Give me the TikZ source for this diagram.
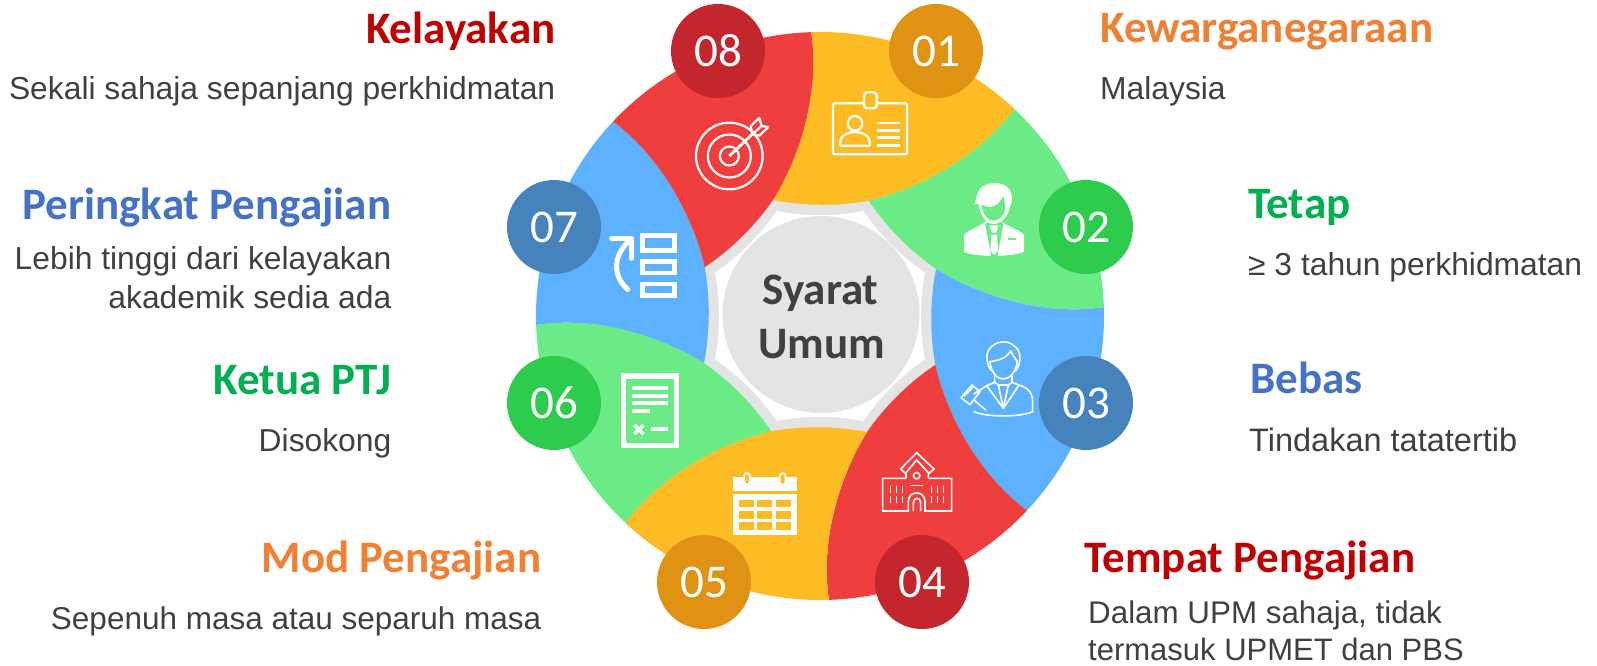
\documentclass[tikz,border=0pt]{standalone}
\usepackage{fontspec}
\setmainfont{Liberation Sans}
\newfontfamily\headf{Carlito}
\definecolor{yel}{HTML}{FDBC24}
\definecolor{grn}{HTML}{6BEB85}
\definecolor{blu}{HTML}{5EB1FD}
\definecolor{red1}{HTML}{EF3E3E}
\definecolor{dyel}{HTML}{E09213}
\definecolor{dgrn}{HTML}{2ECC4C}
\definecolor{dblu}{HTML}{4682BB}
\definecolor{dred}{HTML}{C4262E}
\definecolor{hred}{HTML}{C00000}
\definecolor{horg}{HTML}{F08034}
\definecolor{hgrn}{HTML}{00B050}
\definecolor{hblu}{HTML}{4472C4}
\definecolor{txt}{HTML}{404040}
\definecolor{ring}{HTML}{E4E4E4}
\tikzset{
  headl/.style={inner sep=0pt,text=#1,font=\headf\bfseries\fontsize{45}{45}\selectfont},
  bodyl/.style={inner sep=0pt,text=txt,font=\fontsize{#1}{#1}\selectfont},
  bodyl/.default=31.8,
  num/.style={circle,fill=#1,inner sep=0pt,minimum size=94pt,text=white,font=\headf\fontsize{47}{47}\selectfont},
  ico/.style={x=0.33333pt,y=-0.33333pt,line cap=butt,line join=miter},
  wl/.style={draw=white,line width=#1,fill=none},
}
\begin{document}
\begin{tikzpicture}[x=1pt,y=-1pt]
\useasboundingbox (0,0) rectangle (1597,665);
\fill[white] (0,0) rectangle (1597,665);
% ring and star
\begin{scope}[shift={(820,316)},x=1pt,y=1pt]
\fill[ring] (0,0) circle[radius=130pt];
\foreach \k/\c in {0/yel,1/grn,2/blu,3/red1,4/yel,5/grn,6/blu,7/red1}{
  \fill[\c,rotate=-45*\k] (91.8:284pt) arc[start angle=91.8,end angle=46.8,radius=284pt]
    .. controls (45:226) and (51.7:162.1) .. (67.06:125.2)
    .. controls (81.06:111) and (98.06:111) .. (112.06:125.2)
    .. controls (96.7:162.1) and (90:226) .. (91.8:284) -- cycle;
}
\fill[white] (112.5:113.5)
  .. controls (98:100.5) and (82:100.5) .. (67.5:113.5)
  .. controls (53:100.5) and (37:100.5) .. (22.5:113.5)
  .. controls (8:100.5) and (-8:100.5) .. (-22.5:113.5)
  .. controls (-37:100.5) and (-53:100.5) .. (-67.5:113.5)
  .. controls (-82:100.5) and (-98:100.5) .. (-112.5:113.5)
  .. controls (-127:100.5) and (-143:100.5) .. (-157.5:113.5)
  .. controls (-172:100.5) and (-188:100.5) .. (-202.5:113.5)
  .. controls (-217:100.5) and (-233:100.5) .. (112.5:113.5) -- cycle;
\end{scope}
\fill[ring] (821,314.5) circle[radius=98.5pt];
\node[font=\headf\bfseries\fontsize{45}{45}\selectfont,text=txt,inner sep=0pt,anchor=base] (cA) at (820.5,304) {Syarat};
\node[font=\headf\bfseries\fontsize{45}{45}\selectfont,text=txt,inner sep=0pt,anchor=base] (cB) at (821.5,358) {Umum};
% number circles
\node[num=dred] (n8) at (718,51) {08};
\node[num=dyel] (n1) at (936,51) {01};
\node[num=dgrn] (n2) at (1086,227) {02};
\node[num=dblu] (n3) at (1086,403) {03};
\node[num=dred] (n4) at (922,582) {04};
\node[num=dyel] (n5) at (704,582) {05};
\node[num=dgrn] (n6) at (554,403) {06};
\node[num=dblu] (n7) at (554,227) {07};
% left texts
\node[headl=hred,anchor=base east] (t8) at (555.5,43) {Kelayakan};
\node[bodyl,anchor=base east] (b8) at (555.5,99) {Sekali sahaja sepanjang perkhidmatan};
\node[headl=hblu,anchor=base east] (t7) at (391.5,219) {Peringkat Pengajian};
\node[bodyl,anchor=base east] (b7a) at (391.5,269) {Lebih tinggi dari kelayakan};
\node[bodyl,anchor=base east] (b7b) at (391.5,308) {akademik sedia ada};
\node[headl=hgrn,anchor=base east] (t6) at (391.5,394) {Ketua PTJ};
\node[bodyl,anchor=base east] (b6) at (391.5,451) {Disokong};
\node[headl=horg,anchor=base east] (t5) at (541.5,572.5) {Mod Pengajian};
\node[bodyl=31.5,anchor=base east] (b5) at (541.5,629) {Sepenuh masa atau separuh masa};
% right texts
\node[headl=horg,anchor=base west] (t1) at (1100,42.5) {Kewarganegaraan};
\node[bodyl,anchor=base west] (b1) at (1100,99) {Malaysia};
\node[headl=hgrn,anchor=base west] (t2) at (1248,218.5) {Tetap};
\node[bodyl,anchor=base west] (b2) at (1248,275) {≥ 3 tahun perkhidmatan};
\node[headl=hblu,anchor=base west] (t3) at (1250,393.5) {Bebas};
\node[bodyl=32.5,anchor=base west] (b3) at (1249,451) {Tindakan tatatertib};
\node[headl=hred,anchor=base west] (t4) at (1084,572.5) {Tempat Pengajian};
\node[bodyl=31.35,anchor=base west] (b4a) at (1088,623) {Dalam UPM sahaja, tidak};
\node[bodyl=31,anchor=base west] (b4b) at (1088,660) {termasuk UPMET dan PBS};
% icon 08 target and icon 07 list
\begin{scope}[shift={(500,0)},ico]
\draw[wl=2.2pt] (688,468) circle[radius=33.3pt];
\draw[wl=2.2pt] (688,468) circle[radius=21.5pt];
\draw[wl=2.2pt] (688,468) circle[radius=9.5pt];
\draw[white,line width=2.8pt] (688,468) -- (765,395);
\draw[wl=2.2pt,line join=round] (752,378) -- (778,354) -- (785,378) -- (805,381) -- (778,407) -- (757,402) -- cycle;
\draw[white,line width=2.2pt] (785,378) -- (762,398);
% icon 07
\draw[wl=5pt] (428,706) rectangle (524,750);
\draw[wl=4.5pt] (427,785) rectangle (524,819);
\draw[wl=4.5pt] (427,852) rectangle (524,886);
\draw[white,line width=5pt,line cap=round,line join=round] (335,715) -- (395,715) -- (395,775);
\draw[white,line width=5pt,line cap=round] (383,868) .. controls (340,830) and (335,770) .. (390,720);
\end{scope}
% icon 01 badge, icon 02 man
\begin{scope}[shift={(790,0)},ico]
\draw[wl=2.2pt,rounded corners=2pt] (129,310) rectangle (351,463);
\fill[yel] (222,277) rectangle (260,325);
\draw[wl=2.2pt,rounded corners=3pt] (222,277) rectangle (260,325);
\draw[wl=2.2pt] (195,370) circle[radius=7.3pt];
\draw[wl=2.2pt,line join=round] (151,437) -- (151,425) .. controls (151,405) and (175,396) .. (195,396) .. controls (215,396) and (239,405) .. (239,425) -- (239,437) -- cycle;
\foreach \yy in {369,392,413,436}{\draw[white,line width=2.4pt] (261,\yy) -- (330,\yy);}
% man
\fill[white] (522,705) .. controls (535,690) and (570,680) .. (590,662) -- (632,662) .. controls (650,680) and (690,690) .. (702,705) -- (702,755) .. controls (670,772) and (550,772) .. (522,755) -- cycle;
\fill[grn] (586,672) -- (604,770) -- (622,770) -- (640,672) -- (628,660) -- (598,660) -- cycle;
\fill[white] (598,676) -- (626,676) -- (618,698) -- (606,698) -- cycle;
\fill[white] (604,704) -- (621,704) -- (624,752) -- (613,765) -- (601,752) -- cycle;
\fill[white] (553,612) .. controls (560,595) and (560,570) .. (580,558) .. controls (600,545) and (640,545) .. (655,565) .. controls (670,580) and (668,605) .. (660,620) .. controls (655,650) and (630,672) .. (612,672) .. controls (590,672) and (570,650) .. (566,612) -- cycle;
\fill[grn] (574,614) .. controls (600,628) and (625,620) .. (640,588) .. controls (645,610) and (648,625) .. (644,635) .. controls (635,655) and (622,662) .. (610,662) .. controls (592,662) and (578,642) .. (574,614) -- cycle;
\fill[grn] (655,713) rectangle (679,719);
\end{scope}
% icon 03 lawyer, icon 04 school
\begin{scope}[shift={(790,320)},ico]
\begin{scope}[draw=white,line width=1.6pt,line join=round,line cap=round]
\draw (604,152) .. controls (585,125) and (585,90) .. (610,76) .. controls (625,62) and (660,62) .. (672,78) .. controls (695,90) and (695,130) .. (677,152);
\draw (598,125) .. controls (625,122) and (650,115) .. (662,92) .. controls (668,105) and (675,115) .. (682,125);
\draw (600,125) .. controls (603,155) and (620,177) .. (640,177) .. controls (660,177) and (678,155) .. (682,125);
\draw (614,168) -- (614,187) -- (590,197) -- (552,222);
\draw (666,168) -- (666,187) -- (700,200) .. controls (720,208) and (728,225) .. (728,245) -- (728,275);
\draw (614,187) -- (625,195) -- (640,265) -- (655,195) -- (666,187);
\draw (590,197) -- (640,265) -- (688,194);
\draw (625,195) -- (655,195);
\draw (552,275) .. controls (590,292) and (690,292) .. (728,275);
\draw (513,233) -- (546,195) -- (570,215) -- (540,254) -- cycle;
\draw (522,228) -- (548,203);
\draw (552,240) -- (587,270);
\end{scope}
\begin{scope}[draw=white,line width=1.6pt,line join=miter]
\draw (348,475) -- (278,475) -- (278,573) -- (355,573) -- (355,545) .. controls (355,510) and (405,510) .. (405,545) -- (405,573) -- (485,573) -- (485,475) -- (415,475);
\draw (348,475) -- (348,462) -- (332,447) -- (380,398) -- (432,447) -- (415,462) -- (415,475);
\draw (348,458) -- (380,420) -- (415,458);
\draw (380,467) circle[radius=3.2pt];
\draw (360,497) -- (400,497);
\draw (370,573) -- (370,550) .. controls (370,530) and (392,530) .. (392,550) -- (392,573);
\foreach \xx in {302,320,338,425,443,461}{
  \draw (\xx,497) -- (\xx,518);
  \draw (\xx,528) -- (\xx,550);
}
\end{scope}
\end{scope}
% icon 05 calendar, icon 06 document
\begin{scope}[shift={(500,320)},ico]
\fill[white] (699,472) rectangle (890,513);
\fill[white] (699,522) rectangle (890,645);
\foreach \xa/\xb in {717/762,772/817,828/873}{
  \foreach \ya/\yb in {540/562,574/596,607/629}{
    \fill[yel] (\xa,\ya) rectangle (\xb,\yb);
  }
}
\foreach \xx in {741,848}{
  \fill[white,rounded corners=3pt] (\xx-11,457) rectangle (\xx+11,497);
  \fill[yel,rounded corners=1.5pt] (\xx-6,463) rectangle (\xx+6,491);
}
\fill[white] (363,160) rectangle (537,384);
\fill[grn] (379,177) rectangle (521,368);
\fill[white] (396,198) rectangle (504,210);
\fill[white] (396,222) rectangle (504,233);
\fill[white] (396,243) rectangle (504,255);
\fill[white] (396,267) rectangle (450,279);
\fill[white] (453,321) rectangle (504,332);
\draw[white,line width=3.3pt] (403,315) -- (430,342) (430,315) -- (403,342);
\end{scope}
\end{tikzpicture}
\end{document}
